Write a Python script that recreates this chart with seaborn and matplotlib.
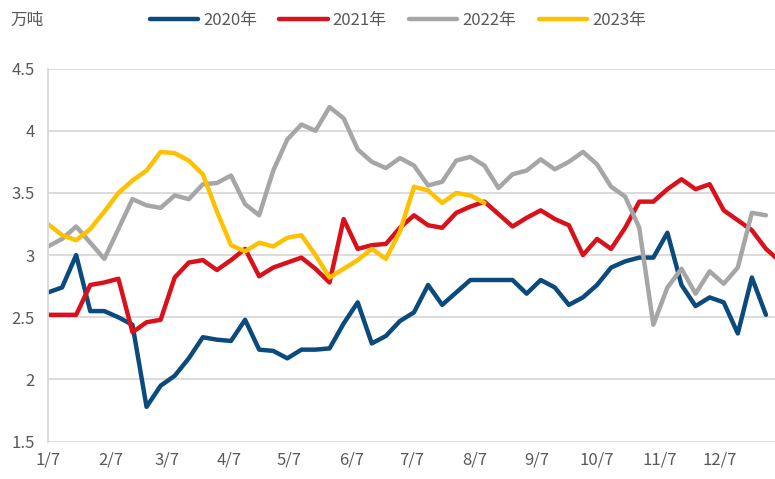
import pandas as pd
import matplotlib
matplotlib.use("Agg")
import matplotlib.pyplot as plt
import seaborn as sns

# dados semanais (leitura aproximada do gráfico)
anos = ["2020年", "2021年", "2022年", "2023年"]

v2020 = [2.70, 2.74, 3.00, 2.55, 2.55, 2.50, 2.44, 1.78, 1.95, 2.03,
         2.17, 2.34, 2.32, 2.31, 2.48, 2.24, 2.23, 2.17, 2.24, 2.24,
         2.25, 2.45, 2.62, 2.29, 2.35, 2.47, 2.54, 2.76, 2.60, 2.70,
         2.80, 2.80, 2.80, 2.80, 2.69, 2.80, 2.74, 2.60, 2.66, 2.76,
         2.90, 2.95, 2.98, 2.98, 3.18, 2.76, 2.59, 2.66, 2.62, 2.37,
         2.82, 2.52]

v2021 = [2.52, 2.52, 2.52, 2.76, 2.78, 2.81, 2.38, 2.46, 2.48, 2.82,
         2.94, 2.96, 2.88, 2.96, 3.05, 2.83, 2.90, 2.94, 2.98, 2.89,
         2.78, 3.29, 3.05, 3.08, 3.09, 3.22, 3.32, 3.24, 3.22, 3.34,
         3.39, 3.43, 3.33, 3.23, 3.30, 3.36, 3.29, 3.24, 3.00, 3.13,
         3.05, 3.22, 3.43, 3.43, 3.53, 3.61, 3.53, 3.57, 3.36, 3.28,
         3.20, 3.05, 2.95]

v2022 = [3.07, 3.13, 3.23, 3.10, 2.97, 3.21, 3.45, 3.40, 3.38, 3.48,
         3.45, 3.57, 3.58, 3.64, 3.41, 3.32, 3.68, 3.93, 4.05, 4.00,
         4.19, 4.10, 3.85, 3.75, 3.70, 3.78, 3.72, 3.56, 3.59, 3.76,
         3.79, 3.72, 3.54, 3.65, 3.68, 3.77, 3.69, 3.75, 3.83, 3.73,
         3.55, 3.47, 3.22, 2.44, 2.74, 2.89, 2.69, 2.87, 2.77, 2.90,
         3.34, 3.32]

v2023 = [3.25, 3.16, 3.12, 3.21, 3.35, 3.50, 3.60, 3.68, 3.83, 3.82,
         3.76, 3.65, 3.35, 3.08, 3.03, 3.10, 3.07, 3.14, 3.16, 3.00,
         2.82, 2.89, 2.96, 3.05, 2.97, 3.19, 3.55, 3.52, 3.42, 3.50,
         3.48, 3.42]

cores = ["#0B4A7C", "#D9111B", "#A6A6A6", "#FFC000"]

meses = list(range(1, 13))
rotulos_x = [f"{m}/7" for m in meses]
ticks_y = [1.5, 2, 2.5, 3, 3.5, 4, 4.5]
rotulos_y = ["1.5", "2", "2.5", "3", "3.5", "4", "4.5"]

# monta o dataframe no formato longo
semanas = pd.date_range("2021-01-07", periods=53, freq="7D")
series = [v2020, v2021, v2022, v2023]
df = pd.concat([
    pd.DataFrame({"data": semanas[:len(v)], "valor": v, "ano": a})
    for a, v in zip(anos, series)
], ignore_index=True)

sns.set_theme(style="white")
plt.rcParams["font.family"] = ["Noto Sans CJK SC", "DejaVu Sans"]

fig = plt.figure(figsize=(7.75, 4.79), dpi=100)
ax = fig.add_axes([0.0613, 0.0779, 0.9387, 0.779])

sns.lineplot(data=df, x="data", y="valor", hue="ano", hue_order=anos,
             palette=cores, linewidth=3.2, errorbar=None, ax=ax)

handles, labels = ax.get_legend_handles_labels()
ax.get_legend().remove()

ax.set_ylim(1.5, 4.5)
ax.set_xlim(pd.Timestamp("2021-01-06 18:00"), pd.Timestamp("2022-01-03 12:00"))
ax.set_yticks(ticks_y)
ax.set_yticklabels(rotulos_y)
ax.set_xticks([pd.Timestamp(2021, m, 7) for m in meses])
ax.set_xticklabels(rotulos_x)
ax.set_xlabel("")
ax.set_ylabel("")

ax.yaxis.grid(True, color="#D9D9D9", linewidth=1.3)
ax.xaxis.grid(False)
for lado in ["top", "right", "bottom"]:
    ax.spines[lado].set_visible(False)
ax.spines["left"].set_color("#D9D9D9")
ax.spines["left"].set_linewidth(1.3)
ax.tick_params(axis="both", length=0, labelsize=12, colors="#595959")
ax.tick_params(axis="y", pad=9)
ax.tick_params(axis="x", pad=7)

fig.legend(handles, labels, loc="center", bbox_to_anchor=(0.513, 0.957),
           ncol=4, frameon=False, fontsize=12, handlelength=2.9,
           handletextpad=0.3, columnspacing=1.35, labelcolor="#595959")
fig.text(0.013, 0.957, "万吨", fontsize=12, color="#595959", va="center")

fig.savefig("out.png", dpi=100)
